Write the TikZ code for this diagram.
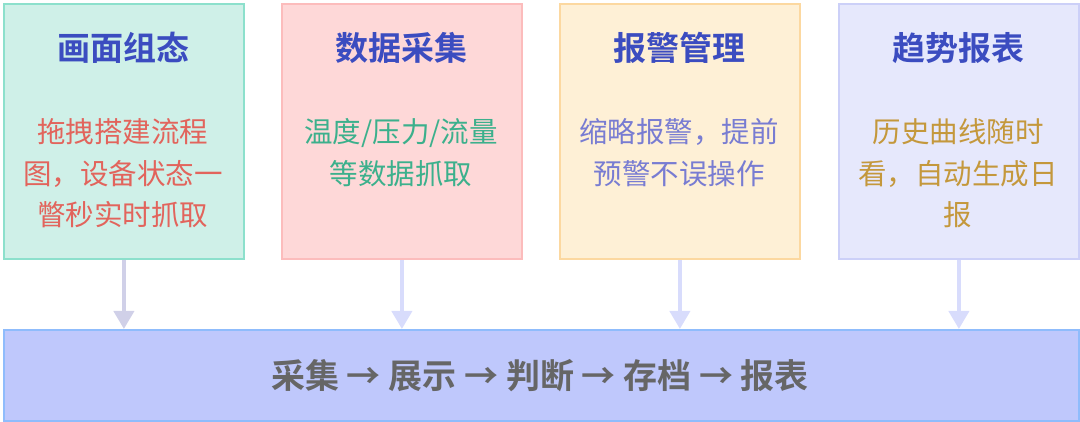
\documentclass[tikz,border=0pt]{standalone}
\usepackage{fontspec}
\newfontfamily\cjk{Noto Sans CJK SC}
\newfontfamily\cjkb{Noto Sans CJK SC Bold}
\usetikzlibrary{arrows.meta}
\definecolor{ttl}{HTML}{3B4CC0}
\begin{document}
\begin{tikzpicture}[x=1pt,y=-1pt,
 box/.style={draw,line width=1.8pt,minimum width=240pt,minimum height=255pt,anchor=north west},
 ttl/.style={font=\cjkb\fontsize{33}{38}\selectfont,text=ttl},
 body/.style={font=\cjk\fontsize{28.5}{41.5}\selectfont,align=center},
 arr/.style={line width=4pt,-{Triangle[width=20pt,length=18pt]}}]
\useasboundingbox (0,0) rectangle (1080,422);
\node[box,fill={rgb,255:red,207;green,240;blue,232},draw={rgb,255:red,140;green,224;blue,204}] (b1) at (3,3) {};
\node[box,fill={rgb,255:red,254;green,216;blue,216},draw={rgb,255:red,252;green,188;blue,188}] (b2) at (281,3) {};
\node[box,fill={rgb,255:red,254;green,240;blue,214},draw={rgb,255:red,252;green,216;blue,160}] (b3) at (559,3) {};
\node[box,fill={rgb,255:red,230;green,232;blue,252},draw={rgb,255:red,204;green,208;blue,248}] (b4) at (838,3) {};
\node[ttl] (t1) at (123,48) {画面组态};
\node[ttl] (t2) at (401,48) {数据采集};
\node[ttl] (t3) at (679,48) {报警管理};
\node[ttl] (t4) at (958,48) {趋势报表};
\node[body,anchor=north,text={rgb,255:red,226;green,100;blue,92}] (d1) at (123,115) {拖拽搭建流程\\图，设备状态一\\瞥秒实时抓取};
\node[body,anchor=north,text={rgb,255:red,60;green,176;blue,140}] (d2) at (401,115) {温度/压力/流量\\等数据抓取};
\node[body,anchor=north,text={rgb,255:red,120;green,124;blue,210}] (d3) at (679,115) {缩略报警，提前\\预警不误操作};
\node[body,anchor=north,text={rgb,255:red,196;green,152;blue,60}] (d4) at (958,115) {历史曲线随时\\看，自动生成日\\报};
\node[draw={rgb,255:red,143;green,188;blue,252},line width=1.8pt,fill={rgb,255:red,191;green,200;blue,252},minimum width=1075pt,minimum height=91pt,anchor=north west] (bar) at (3,329) {};
\node[font=\cjkb\fontsize{34}{40}\selectfont,text={rgb,255:red,102;green,102;blue,102}] (flow) at (540,376) {采集 → 展示 → 判断 → 存档 → 报表};
\draw[arr,draw={rgb,255:red,208;green,208;blue,232},fill={rgb,255:red,208;green,208;blue,232}] (b1.south) -- (b1.south |- bar.north);
\draw[arr,draw={rgb,255:red,216;green,220;blue,252},fill={rgb,255:red,216;green,220;blue,252}] (b2.south) -- (b2.south |- bar.north);
\draw[arr,draw={rgb,255:red,216;green,220;blue,252},fill={rgb,255:red,216;green,220;blue,252}] (b3.south) -- (b3.south |- bar.north);
\draw[arr,draw={rgb,255:red,216;green,220;blue,252},fill={rgb,255:red,216;green,220;blue,252}] (b4.south) -- (b4.south |- bar.north);
\end{tikzpicture}
\end{document}
